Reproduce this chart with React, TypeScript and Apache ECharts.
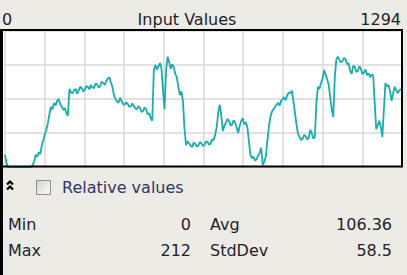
import React, { useEffect, useRef } from "react";
import * as echarts from "echarts";

const TITLE = "Input Values";
const X_MIN_LABEL = "0";
const X_MAX_LABEL = "1294";
const X_MAX = 1294;
const X_STEP = 5;
const Y_MAX = 212;

// sampled input values (every 5 samples)
const inputValues = [
  19, 6, 0, 0, 0, 0, 0, 0, 0, 0,
  0, 0, 0, 0, 0, 0, 0, 0, 3, 9,
  19, 16, 23, 20, 34, 42, 51, 58, 69, 83,
  94, 90, 100, 96, 103, 106, 98, 94, 89, 92,
  84, 80, 122, 116, 115, 119, 122, 114, 119, 125,
  123, 118, 120, 126, 125, 121, 128, 124, 123, 130,
  129, 124, 126, 133, 131, 128, 134, 138, 140, 132,
  125, 112, 106, 102, 100, 108, 103, 98, 97, 101,
  98, 94, 94, 99, 95, 91, 90, 95, 92, 86,
  87, 93, 90, 82, 84, 76, 72, 150, 159, 152,
  157, 162, 154, 120, 90, 150, 172, 164, 153, 160,
  156, 145, 140, 125, 112, 118, 103, 60, 34, 40,
  37, 33, 31, 38, 36, 32, 33, 39, 37, 33,
  34, 40, 39, 35, 36, 43, 42, 50, 62, 85,
  97, 80, 56, 64, 69, 75, 72, 65, 66, 73,
  69, 62, 53, 64, 72, 76, 66, 70, 62, 40,
  19, 14, 16, 10, 12, 18, 22, 30, 3, 8,
  16, 40, 62, 78, 86, 90, 94, 97, 100, 96,
  103, 106, 109, 104, 112, 116, 115, 119, 103, 85,
  66, 52, 47, 42, 44, 50, 48, 43, 45, 58,
  53, 44, 47, 100, 125, 122, 131, 138, 151, 144,
  137, 128, 109, 90, 78, 140, 168, 172, 167, 163,
  165, 170, 168, 160, 162, 150, 145, 158, 156, 148,
  150, 157, 153, 145, 147, 152, 143, 146, 140, 144,
  143, 100, 59, 65, 72, 62, 47, 90, 131, 125,
  128, 118, 103, 115, 125, 120, 115, 119, 122,
];

const checkboxLabel = "Relative values";
const statNamesLeft = ["Min", "Max"];
const statValuesLeft = ["0", "212"];
const statNamesRight = ["Avg", "StdDev"];
const statValuesRight = ["106.36", "58.5"];

const FONT = '"DejaVu Sans", sans-serif';

function txt(text: string, x: number, y: number, size: number, align: string, fill = "#24212b") {
  return {
    type: "text",
    x,
    y,
    z: 100,
    style: {
      text,
      fill,
      fontSize: size,
      fontFamily: FONT,
      align,
      textAlign: align,
      verticalAlign: "middle",
      textVerticalAlign: "middle",
    },
  };
}

export default function App() {
  const ref = useRef<HTMLDivElement>(null);
  useEffect(() => {
    if (!ref.current) return;
    const chart = echarts.init(ref.current, undefined, { renderer: "svg" });
    const data = inputValues.map((v, i) => [i * X_STEP, v]);
    const graphic: any[] = [
      { type: "rect", z: -10, shape: { x: 3, y: 31, width: 399, height: 135 }, style: { fill: "#ffffff" } },
      { type: "line", z: 100, shape: { x1: 0, y1: 30, x2: 403, y2: 30 }, style: { stroke: "#000", lineWidth: 2 } },
      { type: "line", z: 100, shape: { x1: 402, y1: 29, x2: 402, y2: 167 }, style: { stroke: "#000", lineWidth: 2 } },
      { type: "line", z: 100, shape: { x1: 0, y1: 166.5, x2: 403, y2: 166.5 }, style: { stroke: "#000", lineWidth: 2 } },
      { type: "rect", z: 100, shape: { x: 0, y: 29, width: 3, height: 246 }, style: { fill: "#000" } },
      txt(X_MIN_LABEL, 2, 19, 16, "left"),
      txt(TITLE, 187, 19, 16, "center"),
      txt(X_MAX_LABEL, 401, 19, 16, "right"),
      { type: "polyline", z: 100, shape: { points: [[7, 184.5], [10, 181.5], [13, 184.5]] }, style: { stroke: "#000", lineWidth: 2.2, fill: null } },
      { type: "polyline", z: 100, shape: { points: [[7, 189.5], [10, 186.5], [13, 189.5]] }, style: { stroke: "#000", lineWidth: 2.2, fill: null } },
      {
        type: "rect",
        z: 100,
        shape: { x: 36.5, y: 180.5, width: 14, height: 14 },
        style: {
          fill: new echarts.graphic.LinearGradient(0, 0, 1, 1, [
            { offset: 0, color: "#d2d2cc" },
            { offset: 1, color: "#fbfbfa" },
          ]),
          stroke: "#8e8f8f",
          lineWidth: 1,
        },
      },
      txt(checkboxLabel, 62, 187, 16, "left", "#2b3766"),
    ];
    const rowsY = [224, 250];
    rowsY.forEach((y, r) => {
      graphic.push(txt(statNamesLeft[r], 8, y, 16, "left"));
      graphic.push(txt(statValuesLeft[r], 191, y, 16, "right"));
      graphic.push(txt(statNamesRight[r], 210, y, 16, "left"));
      graphic.push(txt(statValuesRight[r], 392, y, 16, "right"));
    });

    chart.setOption({
      animation: false,
      backgroundColor: "#edebe5",
      grid: { left: 5, right: 5, top: 31, bottom: 108, show: false },
      xAxis: {
        type: "value",
        min: 0,
        max: X_MAX,
        interval: X_MAX / 10,
        axisLine: { show: false },
        axisTick: { show: false },
        axisLabel: { show: false },
        splitLine: { show: true, lineStyle: { color: "#d9d9d9", width: 1.5 } },
      },
      yAxis: {
        type: "value",
        min: 0,
        max: Y_MAX,
        interval: Y_MAX / 4,
        axisLine: { show: false },
        axisTick: { show: false },
        axisLabel: { show: false },
        splitLine: { show: true, lineStyle: { color: "#d9d9d9", width: 1.5 } },
      },
      series: [
        {
          type: "line",
          data,
          showSymbol: false,
          lineStyle: { color: "#1aadad", width: 1.8 },
          clip: true,
        },
      ],
      graphic,
    });
    return () => chart.dispose();
  }, []);
  return <div ref={ref} style={{ position: "fixed", left: 0, top: 0, width: 407, height: 275 }} />;
}
